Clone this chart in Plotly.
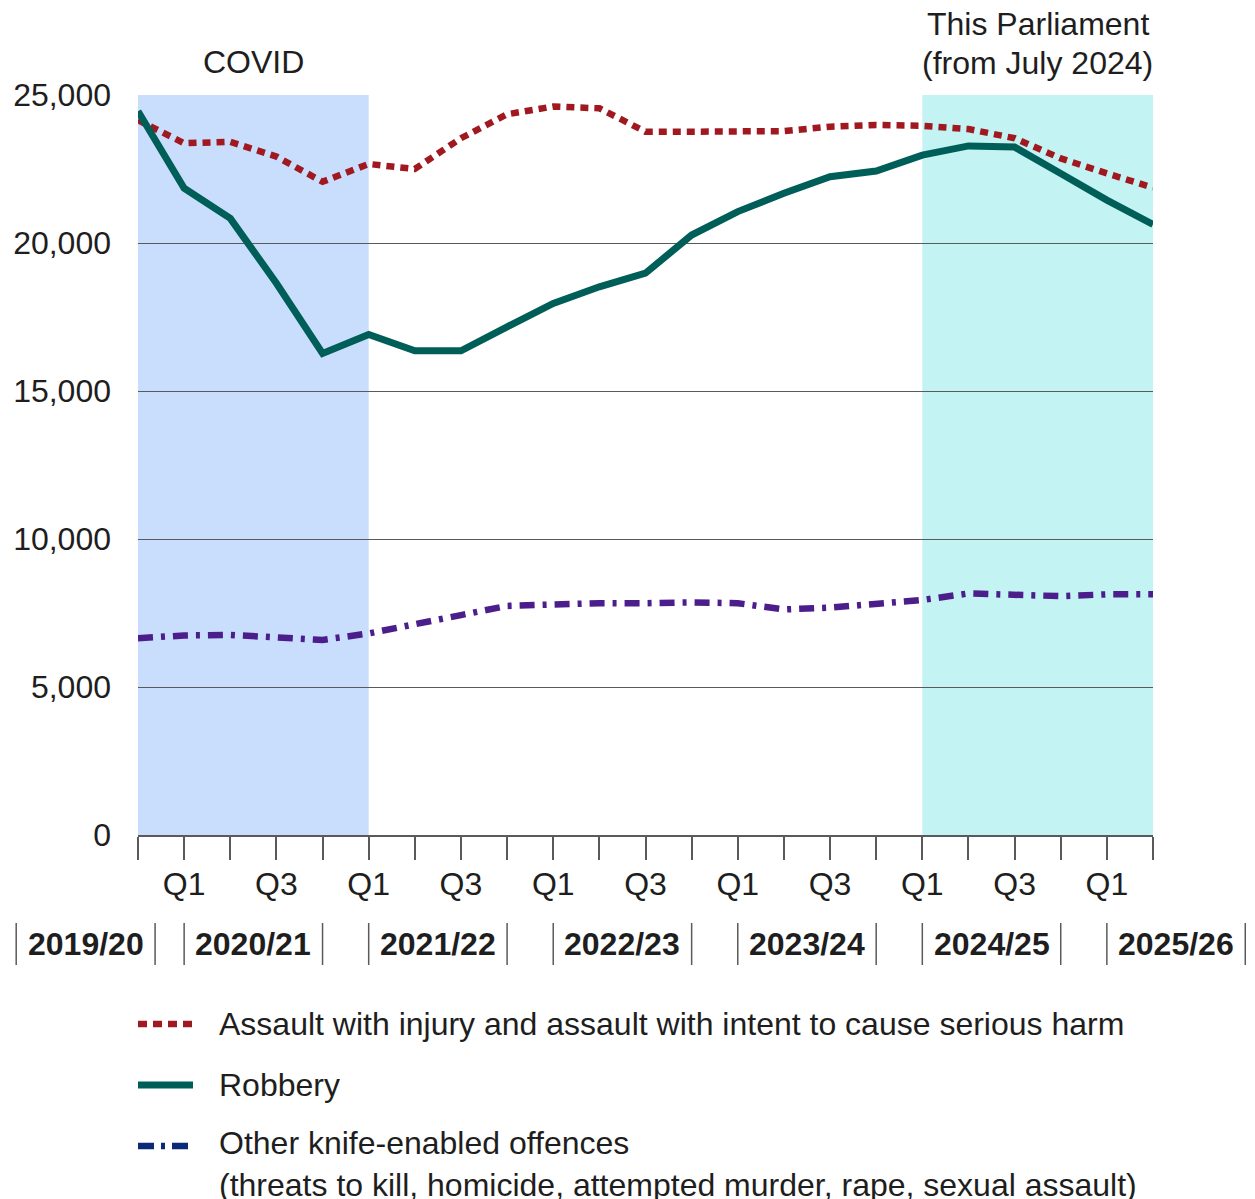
import plotly.graph_objects as go

# ---------------- data ----------------
quarters = [
    "2019/20 Q4",
    "2020/21 Q1", "2020/21 Q2", "2020/21 Q3", "2020/21 Q4",
    "2021/22 Q1", "2021/22 Q2", "2021/22 Q3", "2021/22 Q4",
    "2022/23 Q1", "2022/23 Q2", "2022/23 Q3", "2022/23 Q4",
    "2023/24 Q1", "2023/24 Q2", "2023/24 Q3", "2023/24 Q4",
    "2024/25 Q1", "2024/25 Q2", "2024/25 Q3", "2024/25 Q4",
    "2025/26 Q1", "2025/26 Q2",
]
quarter_ticktext = ["", "Q1", "", "Q3", "", "Q1", "", "Q3", "", "Q1", "", "Q3",
                    "", "Q1", "", "Q3", "", "Q1", "", "Q3", "", "Q1", ""]

assault = [24150, 23370, 23420, 22920, 22070, 22670, 22500, 23540, 24350, 24610, 24550, 23760,
           23760, 23760, 23780, 23930, 23990, 23960, 23850, 23540, 22860, 22350, 21870]
robbery = [24450, 21850, 20830, 18640, 16270, 16910, 16360, 16360, 17170, 17960, 18520, 18980,
           20270, 21060, 21680, 22240, 22430, 22970, 23280, 23240, 22350, 21450, 20630]
other = [6650, 6740, 6760, 6700, 6590, 6810, 7100, 7430, 7740, 7800, 7830, 7830,
         7860, 7830, 7620, 7680, 7790, 7940, 8160, 8130, 8070, 8130, 8130]

series_names = [
    "Assault with injury and assault with intent to cause serious harm",
    "Robbery",
    "Other knife-enabled offences<br>(threats to kill, homicide, attempted murder, rape, sexual assault)",
]

y_ticks = [0, 5000, 10000, 15000, 20000, 25000]
y_ticktext = ["0", "5,000", "10,000", "15,000", "20,000", "25,000"]

fin_years = ["2019/20", "2020/21", "2021/22", "2022/23", "2023/24", "2024/25", "2025/26"]
# bracket extents of each financial-year label, in quarter-index units
year_spans = [(-2.64, 0.37), (1, 4), (5, 8), (9, 12), (13, 16), (17, 20), (21, 24)]

covid_span = ("2019/20 Q4", "2021/22 Q1")
parliament_span = ("2024/25 Q1", "2025/26 Q2")
parliament_lines = ["This Parliament", "(from July 2024)"]

# ---------------- styles ----------------
FONT = "Liberation Sans, Arial, sans-serif"
FS = 32
TXT = "#1e1e1e"
RED = "#a01820"
TEAL = "#005e58"
PURPLE = "#4b1e8c"
NAVY = "#0c2a78"
GRID = "#5a5a5a"

fig = go.Figure()
fig.add_trace(go.Scatter(x=quarters, y=assault, mode="lines", name=series_names[0],
                         line=dict(color=RED, width=6.5, dash="8px,6px"), showlegend=False))
fig.add_trace(go.Scatter(x=quarters, y=robbery, mode="lines", name=series_names[1],
                         line=dict(color=TEAL, width=7), showlegend=False))
fig.add_trace(go.Scatter(x=quarters, y=other, mode="lines", name="Other knife-enabled offences",
                         line=dict(color=PURPLE, width=6.5, dash="15px,8px,4px,8px"), showlegend=False))

n = len(quarters) - 1
PLOT_W = 1015.0
PLOT_H = 740.0


def px(idx):
    return idx / n


def py(pix):  # pixel offset below plot bottom -> paper
    return -pix / PLOT_H


shapes = []
annotations = []

# shaded periods
for (a, b), col in [(covid_span, "#c9ddfd"), (parliament_span, "#c3f4f3")]:
    shapes.append(dict(type="rect", xref="paper", yref="paper",
                       x0=px(quarters.index(a)), x1=px(quarters.index(b)), y0=0, y1=1,
                       fillcolor=col, line=dict(width=0), layer="below"))

# financial year labels with bracket bars
for label, (a, b) in zip(fin_years, year_spans):
    for xx in (a, b):
        shapes.append(dict(type="line", xref="paper", yref="paper", x0=px(xx), x1=px(xx),
                           y0=py(88), y1=py(130), line=dict(color=GRID, width=1.5)))
    annotations.append(dict(xref="paper", yref="paper", x=px((a + b) / 2), y=py(109),
                            text="<b>%s</b>" % label, showarrow=False, xanchor="center",
                            yanchor="middle", font=dict(family=FONT, size=FS, color=TXT)))

# period headings
annotations.append(dict(xref="paper", yref="paper",
                        x=px((quarters.index(covid_span[0]) + quarters.index(covid_span[1])) / 2),
                        y=1 + 33 / PLOT_H, text="COVID", showarrow=False,
                        xanchor="center", yanchor="middle",
                        font=dict(family=FONT, size=FS, color=TXT)))
for line_text, off in zip(parliament_lines, (71, 32)):
    annotations.append(dict(xref="paper", yref="paper",
                            x=px((quarters.index(parliament_span[0]) + quarters.index(parliament_span[1])) / 2),
                            y=1 + off / PLOT_H, text=line_text, showarrow=False,
                            xanchor="center", yanchor="middle",
                            font=dict(family=FONT, size=FS, color=TXT)))

# legend (drawn manually to match the reference layout)
legend_items = [
    (series_names[0], RED, 6.5, "9px,6px", 55, 189, 189),
    (series_names[1], TEAL, 7, None, 55, 250, 250),
    (series_names[2], NAVY, 6.5, "16px,7px,4px,7px", 50, 311, 329),
]
for text, col, w, dash, length, ysym, ytext in legend_items:
    ln = dict(color=col, width=w)
    if dash:
        ln["dash"] = dash
    shapes.append(dict(type="line", xref="paper", yref="paper", x0=0, x1=length / PLOT_W,
                       y0=py(ysym), y1=py(ysym), line=ln))
    annotations.append(dict(xref="paper", yref="paper", x=79 / PLOT_W, y=py(ytext), text=text,
                            showarrow=False, xanchor="left", yanchor="middle", align="left",
                            font=dict(family=FONT, size=FS, color=TXT)))

# page body has an 8px default margin, so the figure is offset by 8px
fig.update_layout(
    width=1247, height=1191, autosize=False,
    margin=dict(l=130, r=102, t=87, b=364, autoexpand=False),
    paper_bgcolor="white", plot_bgcolor="white",
    font=dict(family=FONT, size=FS, color=TXT),
    showlegend=False,
    shapes=shapes, annotations=annotations,
    xaxis=dict(type="category", range=[0, n], tickmode="array", tickvals=quarters,
               ticktext=quarter_ticktext, ticks="outside", ticklen=23, tickwidth=1.5,
               tickcolor=GRID, showgrid=False, zeroline=False, showline=True,
               linecolor=GRID, linewidth=1.5, tickfont=dict(family=FONT, size=FS, color=TXT),
               ticklabelstandoff=-3, fixedrange=True, automargin=False),
    yaxis=dict(range=[0, 25000], tickmode="array", tickvals=y_ticks, ticktext=y_ticktext,
               showgrid=True, gridcolor=GRID, gridwidth=1.2, zeroline=False, showline=False,
               ticks="", tickfont=dict(family=FONT, size=FS, color=TXT),
               ticklabelstandoff=26, fixedrange=True, automargin=False),
)

fig.write_html("out.html")
